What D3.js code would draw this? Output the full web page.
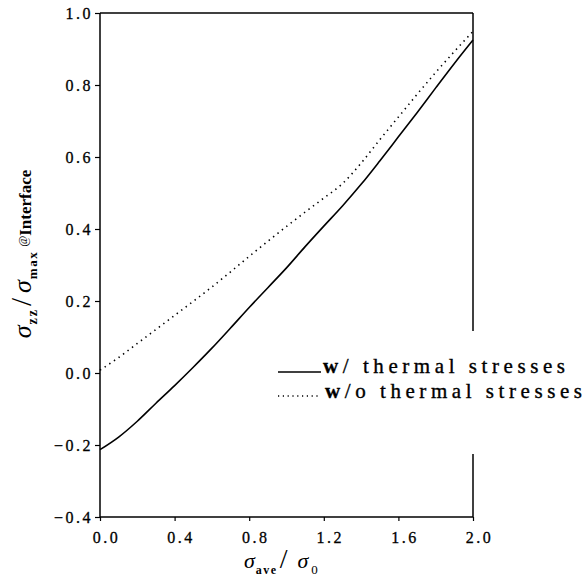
<!DOCTYPE html>
<html>
<head>
<meta charset="utf-8">
<script src="https://cdn.jsdelivr.net/npm/d3@7"></script>
<style>
  html, body { margin: 0; padding: 0; background: #fff; }
  svg { display: block; }
  svg text { font-family: "Liberation Serif", "Times New Roman", serif; fill: #000; }
</style>
</head>
<body>
<svg id="chart" width="586" height="582"></svg>
<script>
// ---- data ----
const xValues = [0.0, 0.1, 0.2, 0.3, 0.4, 0.5, 0.6, 0.7, 0.8, 0.9, 1.0,
                 1.1, 1.2, 1.3, 1.4, 1.5, 1.6, 1.7, 1.8, 1.9, 2.0];
const withThermal = [-0.213, -0.178, -0.134, -0.084, -0.035, 0.016, 0.069, 0.125, 0.182, 0.237, 0.292,
                     0.351, 0.408, 0.464, 0.524, 0.589, 0.656, 0.723, 0.792, 0.860, 0.925];
const withoutThermal = [0.008, 0.043, 0.082, 0.121, 0.160, 0.199, 0.239, 0.281, 0.324, 0.366, 0.407,
                        0.447, 0.486, 0.526, 0.583, 0.648, 0.711, 0.774, 0.835, 0.893, 0.949];
const xTicks = [0.0, 0.4, 0.8, 1.2, 1.6, 2.0];
const yTicks = [-0.4, -0.2, 0.0, 0.2, 0.4, 0.6, 0.8, 1.0];
const legendLabels = ["w/ thermal stresses", "w/o thermal stresses"];

// ---- layout ----
const svg = d3.select("#chart");
const L = 100, R = 473, T = 13, B = 517;
const x = d3.scaleLinear().domain([0, 2]).range([L, R]);
const y = d3.scaleLinear().domain([-0.4, 1.0]).range([B, T]);
const SERIF = "Liberation Serif";
const fmt = v => d3.format(".1f")(v).replace("-", "\u2212");

// axes
const gy = svg.append("g").attr("transform", `translate(${L},0)`)
  .call(d3.axisLeft(y).tickValues(yTicks).tickSize(5).tickPadding(2).tickFormat(fmt));
const gx = svg.append("g").attr("transform", `translate(0,${B})`)
  .call(d3.axisBottom(x).tickValues(xTicks).tickSize(4).tickPadding(11).tickFormat(fmt));
[gy, gx].forEach(g => {
  g.attr("font-family", SERIF).attr("font-size", 16);
  g.select(".domain").remove();
  g.selectAll(".tick line").attr("stroke", "#000").attr("stroke-width", 1.2);
  g.selectAll(".tick text")
    .attr("fill", "#000")
    .attr("stroke", "#000").attr("stroke-width", 0.3)
    .attr("font-family", SERIF)
    .style("font-size", "16px")
    .style("letter-spacing", "2.5px");
});
gx.selectAll(".tick text").attr("dx", 6);

// frame
const frame = svg.append("g").attr("stroke", "#000").attr("stroke-width", 1.5).attr("fill", "none");
frame.append("line").attr("x1", x(0)).attr("x2", x(2)).attr("y1", y(1.0)).attr("y2", y(1.0));
frame.append("line").attr("x1", x(0)).attr("x2", x(2)).attr("y1", y(-0.4)).attr("y2", y(-0.4));
frame.append("line").attr("x1", x(0)).attr("x2", x(0)).attr("y1", y(1.0)).attr("y2", y(-0.4));
// right edge broken where the legend sits
frame.append("line").attr("x1", x(2)).attr("x2", x(2)).attr("y1", y(1.0)).attr("y2", y(0.117));
frame.append("line").attr("x1", x(2)).attr("x2", x(2)).attr("y1", y(-0.225)).attr("y2", y(-0.4));

// curves
const line = d3.line().x((d, i) => x(xValues[i])).y(d => y(d)).curve(d3.curveMonotoneX);
svg.append("path").datum(withThermal).attr("d", line)
  .attr("fill", "none").attr("stroke", "#000").attr("stroke-width", 1.6);
svg.append("path").datum(withoutThermal).attr("d", line)
  .attr("fill", "none").attr("stroke", "#000").attr("stroke-width", 1.6)
  .attr("stroke-dasharray", "1.4,4.2");

// legend
const leg = svg.append("g");
leg.append("line").attr("x1", 278).attr("x2", 321).attr("y1", 372).attr("y2", 372)
  .attr("stroke", "#000").attr("stroke-width", 1.6);
leg.append("line").attr("x1", 278).attr("x2", 321).attr("y1", 396).attr("y2", 396)
  .attr("stroke", "#000").attr("stroke-width", 1.4).attr("stroke-dasharray", "1.2,3.6");
const lt1 = leg.append("text").attr("x", 323).attr("y", 373)
  .attr("textLength", 242).attr("lengthAdjust", "spacing")
  .attr("stroke", "#000").attr("stroke-width", 0.35)
  .style("font-size", "21px");
lt1.append("tspan").style("font-weight", "bold").text("w");
lt1.append("tspan").text(legendLabels[0].slice(1));
const lt2 = leg.append("text").attr("x", 325).attr("y", 398)
  .attr("textLength", 257).attr("lengthAdjust", "spacing")
  .attr("stroke", "#000").attr("stroke-width", 0.35)
  .style("font-size", "21px");
lt2.append("tspan").style("font-weight", "bold").text("w");
lt2.append("tspan").text(legendLabels[1].slice(1));

// x-axis title
const xt = svg.append("text").attr("x", 244).attr("y", 568);
xt.append("tspan").style("font-style", "italic").style("font-size", "22px").text("σ");
xt.append("tspan").attr("dy", 6).attr("dx", 1).style("font-weight", "bold").style("font-size", "12px")
  .style("letter-spacing", "1.5px").text("ave");
xt.append("tspan").attr("dy", -6).attr("dx", 2).style("font-size", "28px").text("/");
xt.append("tspan").attr("dx", 10).style("font-style", "italic").style("font-size", "22px").text("σ");
xt.append("tspan").attr("dy", 6).attr("dx", 3).style("font-size", "13px").text("0");

// y-axis title
const yt = svg.append("text")
  .attr("transform", "translate(31,254) rotate(-90)")
  .attr("text-anchor", "middle");
yt.append("tspan").style("font-style", "italic").style("font-size", "26px").text("σ");
yt.append("tspan").attr("dy", 6).attr("dx", 1).style("font-weight", "bold").style("font-size", "14px")
  .style("letter-spacing", "2px").text("zz");
yt.append("tspan").attr("dy", -6).attr("dx", 2).style("font-size", "29px").text("/");
yt.append("tspan").attr("dx", 5).style("font-style", "italic").style("font-size", "26px").text("σ");
yt.append("tspan").attr("dy", 6).attr("dx", 1).style("font-weight", "bold").style("font-size", "13px")
  .style("letter-spacing", "1.5px").text("max");
yt.append("tspan").attr("dy", -10).attr("dx", 4).style("font-size", "12px").text("@");
yt.append("tspan").attr("dy", 4).style("font-weight", "bold").style("font-size", "17px")
  .text("Interface");
</script>
</body>
</html>
